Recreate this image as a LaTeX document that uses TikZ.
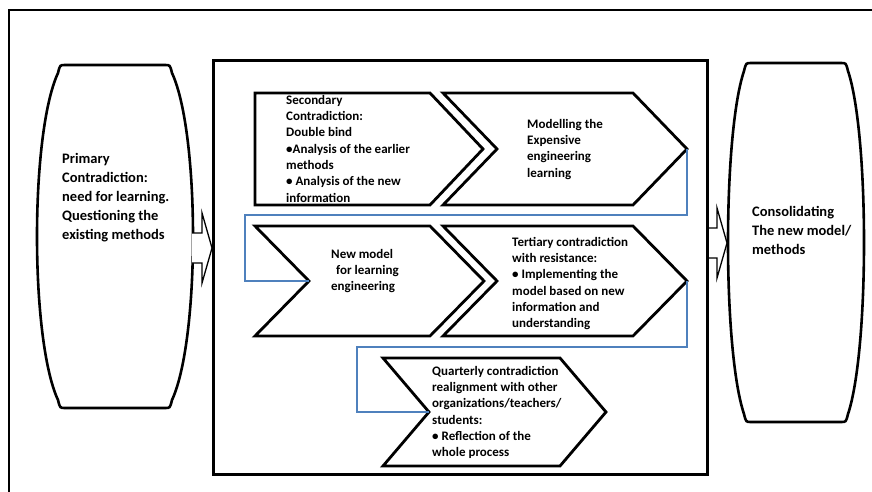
\documentclass[tikz,border=0pt]{standalone}
\usepackage{fontspec}
\setmainfont{Carlito}
\definecolor{linkblue}{RGB}{79,129,189}
\newcommand\BarrelShape[6]{%
    % #1 name, #2 centre x, #3 top, #4 bottom, #5 half top width, #6 half bulge width
    \draw[barrel] ({#2-#5+5},#3) -- ({#2+#5-5},#3)
        .. controls ({#2+#5},#3) .. ({#2+#5+2},{#3+8})
        .. controls ({#2+#5+2+(#6-#5-2)*4/3},{#3+0.2*(#4-#3)}) and ({#2+#5+2+(#6-#5-2)*4/3},{#4-0.2*(#4-#3)}) .. ({#2+#5+2},{#4-8})
        .. controls ({#2+#5},#4) .. ({#2+#5-5},#4)
        -- ({#2-#5+5},#4)
        .. controls ({#2-#5},#4) .. ({#2-#5-2},{#4-8})
        .. controls ({#2-#5-2-(#6-#5-2)*4/3},{#4-0.2*(#4-#3)}) and ({#2-#5-2-(#6-#5-2)*4/3},{#3+0.2*(#4-#3)}) .. ({#2-#5-2},{#3+8})
        .. controls ({#2-#5},#3) .. cycle;
    \coordinate (#1-east) at ({#2+#6},{(#3+#4)/2});
    \coordinate (#1-west) at ({#2-#6},{(#3+#4)/2});
}
\newcommand\ChevronShape[6]{%
    % #1 name, #2 left, #3 top, #4 right, #5 bottom, #6 depth of point
    \draw[chevron] (#2,#3) -- (#4,#3) -- ({#4+#6},{(#3+#5)/2}) coordinate(#1-tip)
        -- (#4,#5) -- (#2,#5) -- ({#2+#6},{(#3+#5)/2}) coordinate(#1-notch) -- cycle;
}
\newcommand\BlockArrow[2]{%
    % #1 start, #2 length of stem
    \draw[blockarrow] (#1) ++(0,-15) -- ++(#2,0) -- ++(0,-20) -- ++(10,35)
        -- ++(-10,35) -- ++(0,-20) -- ++(-#2,0);
}

\begin{document}
\begin{tikzpicture}[x=1pt,y=-1pt,
    frame/.style={line width=2.6pt},
    barrel/.style={line width=2.6pt},
    chevron/.style={line width=2.8pt, line join=miter},
    link/.style={linkblue, line width=1.2pt},
    blockarrow/.style={line width=1.3pt, fill=white},
    stagetext/.style={font=\bfseries\fontsize{13}{16.3}\selectfont, align=left, inner sep=0pt, anchor=north west},
    endtext/.style={font=\bfseries\fontsize{14.5}{19}\selectfont, align=left, inner sep=0pt, anchor=north west}]
    \useasboundingbox (0,0) rectangle (872,492);
    \draw[frame] (9,492) -- (9,10) -- (872,10);

    % outer stages
    \BarrelShape{primary}{115}{65}{408}{55}{78}
    \node[endtext] (primary-text) at (62,153) {Primary\\Contradiction:\\need for learning.\\Questioning the\\existing methods};
    \BarrelShape{consol}{796}{63}{422}{50}{68}
    \node[endtext] (consol-text) at (752,206) {Consolidating\\The new model/\\methods};
    \coordinate (in-start) at (192,248);
    \coordinate (out-start) at (706,243);
    \BlockArrow{in-start}{10}
    \BlockArrow{out-start}{11}
    \node[frame, draw, anchor=north west, minimum width=494pt, minimum height=414pt] (activity) at (212,59) {};

    % inner cycle
    \draw[chevron] (255,93) -- (430,93) -- (483,149) coordinate(sec-tip) -- (430,205) -- (255,205) -- cycle;
    \ChevronShape{mod}{443}{93}{633}{205}{54}
    \ChevronShape{new}{255}{226}{430}{336}{54}
    \ChevronShape{ter}{443}{226}{633}{336}{54}
    \ChevronShape{qua}{383}{358}{560}{466}{46}

    \node[stagetext] (sec-text) at (286,95) {Secondary\\Contradiction:\\Double bind\\•Analysis of the earlier\\methods\\• Analysis of the new\\information};
    \node[stagetext] (mod-text) at (527,119) {Modelling the\\Expensive\\engineering\\learning};
    \node[stagetext] (new-text) at (331,249) {New model\\\hspace{5pt}for learning\\engineering};
    \node[stagetext] (ter-text) at (512,237) {Tertiary contradiction\\with resistance:\\• Implementing the\\model based on new\\information and\\understanding};
    \node[stagetext] (qua-text) at (432,366) {Quarterly contradiction\\realignment with other\\organizations/teachers/\\students:\\• Reflection of the\\whole process};

    \begin{scope}[link] % turns
        \coordinate (bend1) at (245,215);
        \coordinate (bend2) at (357,347);
        \draw (mod-tip) |- (bend1) |- (new-notch);
        \draw (ter-tip) |- (bend2) |- (qua-notch);
    \end{scope}
\end{tikzpicture}
\end{document}
